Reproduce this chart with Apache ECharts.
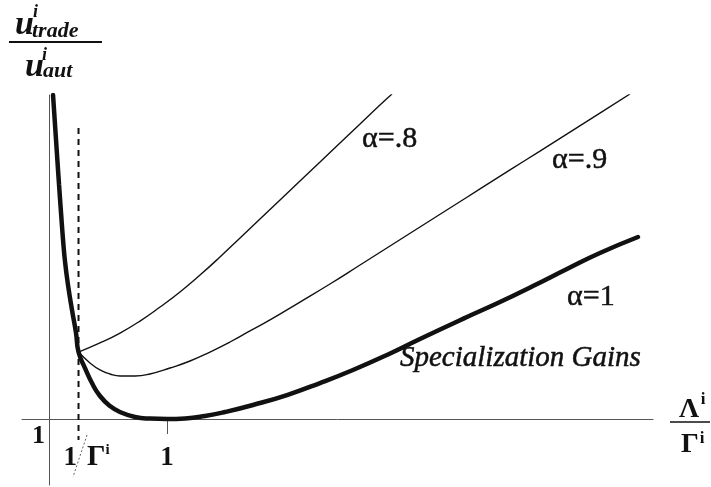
<!DOCTYPE html>
<html>
<head>
<meta charset="utf-8">
<script src="https://cdn.jsdelivr.net/npm/echarts@6/dist/echarts.min.js"></script>
<style>
  html, body { margin: 0; padding: 0; background: #fff; }
  #chart { width: 711px; height: 487px; }
</style>
</head>
<body>
<div id="chart"></div>
<script>
// Utility under trade relative to autarky, against Λ/Γ, for three values of α.

// α = 1 (thick curve, minimum of 1 at Λ/Γ = 1)
const alpha1X = [0.034, 0.051, 0.068, 0.085, 0.102, 0.119, 0.136, 0.161, 0.195, 0.229, 0.25, 0.305, 0.364, 0.432, 0.517, 0.602, 0.729, 0.856, 1.0, 1.153, 1.322, 1.492, 1.729, 2.017, 2.297, 2.576, 2.864, 3.144, 3.542, 3.822, 4.102, 4.390, 4.669, 4.992];
const alpha1Y = [4.0, 3.722, 3.444, 3.167, 2.907, 2.657, 2.454, 2.241, 2.009, 1.796, 1.62, 1.472, 1.333, 1.213, 1.12, 1.065, 1.019, 1.004, 1.0, 1.005, 1.028, 1.065, 1.13, 1.222, 1.333, 1.454, 1.593, 1.741, 1.944, 2.083, 2.231, 2.389, 2.537, 2.685];

// α = .9
const alpha09X = [0.25, 0.347, 0.432, 0.517, 0.602, 0.729, 0.856, 1.025, 1.195, 1.364, 1.534, 1.703, 1.873, 2.127, 2.381, 2.636, 2.890, 3.144, 3.398, 3.653, 3.907, 4.161, 4.415, 4.669, 4.924];
const alpha09Y = [1.62, 1.519, 1.454, 1.417, 1.398, 1.398, 1.417, 1.472, 1.537, 1.62, 1.713, 1.815, 1.917, 2.083, 2.25, 2.426, 2.602, 2.778, 2.954, 3.13, 3.306, 3.481, 3.657, 3.833, 4.009];

// α = .8
const alpha08X = [0.25, 0.432, 0.602, 0.771, 0.941, 1.110, 1.280, 1.449, 1.619, 1.788, 1.958, 2.127, 2.297, 2.466, 2.636, 2.805, 2.907];
const alpha08Y = [1.62, 1.704, 1.796, 1.907, 2.037, 2.176, 2.333, 2.5, 2.676, 2.852, 3.028, 3.204, 3.380, 3.556, 3.731, 3.907, 4.009];

// 1/Γ reference line (Γ = 4)
const invGamma = 0.25;
const invGammaLineY = [3.694, 0.806];

// axis ranges and marked values
const xMin = -0.229, xMax = 5.119;
const yMin = 0.389, yMax = 4.0;
const xTickValues = [1];
const xLabelValues = [0.25, 1];
const yLabelValues = [1];
const yCross = 1; // horizontal axis sits at a ratio of 1

const curveLabels = ['α=.8', 'α=.9', 'α=1'];
const gainsLabel = 'Specialization Gains';

const pairs = (xs, ys) => xs.map((x, i) => [x, ys[i]]);
const serif = '"Liberation Serif", "Times New Roman", serif';
const ink = '#111';
const axisGray = '#555';

const grid = { left: 22, right: 58, top: 95, bottom: 2 };
const gridHeight = 487 - grid.top - grid.bottom;
const xAxisOffset = -(yCross - yMin) * gridHeight / (yMax - yMin);

const chart = echarts.init(document.getElementById('chart'), null, { renderer: 'canvas' });

const thin = (data, name) => ({
  name, type: 'line', data, showSymbol: false, smooth: 0.5,
  lineStyle: { color: ink, width: 1.4 }, z: 3
});

// slightly heavier serif text for the curve annotations
const noteStyle = (text, font) => ({
  text, font, fill: ink, stroke: ink, lineWidth: 0.5, align: 'left', verticalAlign: 'middle'
});

chart.setOption({
  animation: false,
  backgroundColor: '#fff',
  grid: Object.assign({ outerBoundsMode: 'none', containLabel: false }, grid),
  xAxis: {
    type: 'value', min: xMin, max: xMax, offset: xAxisOffset,
    axisLine: { onZero: false, lineStyle: { color: axisGray, width: 1 } },
    axisTick: { customValues: xTickValues, length: 15, lineStyle: { color: axisGray, width: 1 } },
    axisLabel: {
      customValues: xLabelValues, margin: 24,
      formatter: v => (v < 0.5 ? '{sp| }{one|1}{gap| }{G|Γ}{sup|i}' : '{one|1}'),
      rich: {
        sp: { width: 16 },
        one: { fontFamily: serif, fontWeight: 'bold', fontSize: 27, lineHeight: 30, color: ink },
        gap: { width: 10 },
        G: { fontFamily: serif, fontWeight: 'bold', fontSize: 29, lineHeight: 30, color: ink },
        sup: { fontFamily: serif, fontWeight: 'bold', fontSize: 15, lineHeight: 15, verticalAlign: 'top', color: ink }
      }
    },
    splitLine: { show: false }
  },
  yAxis: {
    type: 'value', min: yMin, max: yMax,
    axisLine: { onZero: true, lineStyle: { color: axisGray, width: 1 } },
    axisTick: { show: false },
    axisLabel: {
      customValues: yLabelValues, formatter: () => '1', margin: -23,
      verticalAlign: 'top', padding: [4, 0, 0, 0],
      fontFamily: serif, fontWeight: 'bold', fontSize: 26, color: ink
    },
    splitLine: { show: false }
  },
  series: [
    {
      name: '1/Γ', type: 'line', data: invGammaLineY.map(y => [invGamma, y]),
      showSymbol: false, clip: false, z: 2,
      lineStyle: { color: '#111', width: 2, type: [6, 5] }
    },
    thin(pairs(alpha08X, alpha08Y), curveLabels[0]),
    thin(pairs(alpha09X, alpha09Y), curveLabels[1]),
    {
      name: curveLabels[2], type: 'line', data: pairs(alpha1X, alpha1Y),
      showSymbol: false, smooth: 0.5, z: 4,
      lineStyle: { color: ink, width: 4.5, cap: 'round' }
    }
  ],
  graphic: [
    // vertical axis title: u^i_trade / u^i_aut
    { type: 'text', x: 15, y: 25, style: { text: 'u', font: 'italic bold 34px ' + serif, fill: ink, align: 'left', verticalAlign: 'middle' } },
    { type: 'text', x: 33, y: 12, style: { text: 'i', font: 'italic bold 18px ' + serif, fill: ink, align: 'left', verticalAlign: 'middle' } },
    { type: 'text', x: 32, y: 31, style: { text: 'trade', font: 'italic bold 22px ' + serif, fill: ink, align: 'left', verticalAlign: 'middle' } },
    { type: 'line', shape: { x1: 9, y1: 42, x2: 102, y2: 42 }, style: { stroke: ink, lineWidth: 2 } },
    { type: 'text', x: 25, y: 67, style: { text: 'u', font: 'italic bold 34px ' + serif, fill: ink, align: 'left', verticalAlign: 'middle' } },
    { type: 'text', x: 42, y: 55, style: { text: 'i', font: 'italic bold 18px ' + serif, fill: ink, align: 'left', verticalAlign: 'middle' } },
    { type: 'text', x: 43, y: 71, style: { text: 'aut', font: 'italic bold 22px ' + serif, fill: ink, align: 'left', verticalAlign: 'middle' } },

    // horizontal axis title: Λ^i / Γ^i
    { type: 'text', x: 689, y: 410, style: { text: 'Λ', font: 'bold 28px ' + serif, fill: ink, align: 'center', verticalAlign: 'middle' } },
    { type: 'text', x: 703, y: 400, style: { text: 'i', font: 'bold 17px ' + serif, fill: ink, align: 'center', verticalAlign: 'middle' } },
    { type: 'line', shape: { x1: 670, y1: 422, x2: 710, y2: 422 }, style: { stroke: ink, lineWidth: 1.5 } },
    { type: 'text', x: 690, y: 445, style: { text: 'Γ', font: 'bold 28px ' + serif, fill: ink, align: 'center', verticalAlign: 'middle' } },
    { type: 'text', x: 702, y: 439, style: { text: 'i', font: 'bold 17px ' + serif, fill: ink, align: 'center', verticalAlign: 'middle' } },

    // fraction slash of the 1/Γ label
    { type: 'line', shape: { x1: 87, y1: 435, x2: 73, y2: 477 }, style: { stroke: '#666', lineWidth: 1, lineDash: [2, 2] } },

    // curve labels
    { type: 'text', x: 362, y: 139, style: noteStyle(curveLabels[0], '30px ' + serif) },
    { type: 'text', x: 552, y: 160, style: noteStyle(curveLabels[1], '30px ' + serif) },
    { type: 'text', x: 567, y: 297, style: noteStyle(curveLabels[2], '30px ' + serif) },
    { type: 'text', x: 400, y: 358, style: noteStyle(gainsLabel, 'italic 29px ' + serif) }
  ]
});
</script>
</body>
</html>
